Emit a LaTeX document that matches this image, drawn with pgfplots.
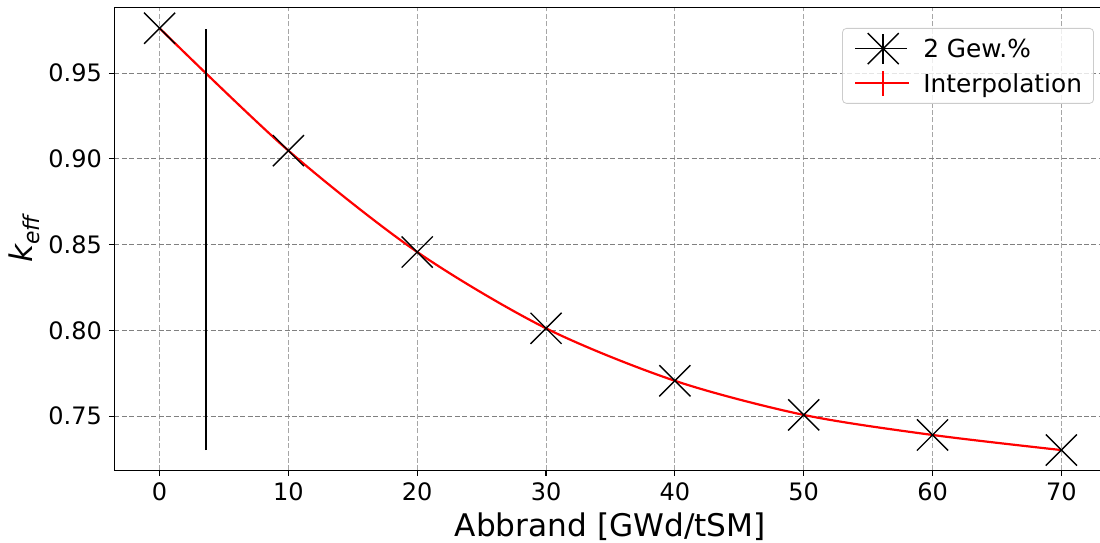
\documentclass[border=0pt]{standalone}
\usepackage{fontspec}
\setmainfont{DejaVu Sans}
\usepackage{pgfplots}
\pgfplotsset{compat=1.18}
\pgfplotstableread{
x y
0 0.9762
10 0.9048
20 0.8457
30 0.8012
40 0.7706
50 0.7507
60 0.7390
70 0.7302
}\datatab
\begin{document}
\begin{tikzpicture}
\useasboundingbox (-57.25pt,-35.85pt) rectangle (492.75pt,235.15pt);
\begin{axis}[
  scale only axis, width=492.75pt, height=231.5pt,
  xmin=-3.5, xmax=73, ymin=0.7184, ymax=0.9884,
  axis y line*=left, axis x line*=box,
  axis line style={black, line width=0.6pt},
  xtick={0,10,...,70}, ytick={0.75,0.80,0.85,0.90,0.95},
  xtick pos=left, ytick pos=left,
  tick align=outside, major tick length=2.8pt,
  tick style={black, line width=0.6pt},
  /pgf/number format/assume math mode=true,
  tick label style={font=\fontsize{12}{14.4}\selectfont},
  yticklabel style={/pgf/number format/.cd, fixed, fixed zerofill, precision=2},
  grid=major,
  x grid style={color=black!35, dash pattern=on 2.5pt off 1.2pt, line width=0.5pt},
  y grid style={color=black!50, dash pattern=on 2.5pt off 1.2pt, line width=0.5pt},
  xlabel={Abbrand [GWd/tSM]},
  ylabel={\itshape k\textsubscript{eff}},
  every axis x label/.style={at={([xshift=1.5pt,yshift=-33pt]axis description cs:0.5,0)}, anchor=base, font=\fontsize{15.6}{18}\selectfont},
  every axis y label/.style={at={([xshift=-41pt]axis description cs:0,0.5)}, rotate=90, anchor=base, font=\fontsize{15.6}{18}\selectfont},
  legend cell align=left,
  legend style={at={(axis description cs:0.9939,0.9553)}, anchor=north east,
    draw=black!20, rounded corners=2pt, fill=white, fill opacity=0.8, text opacity=1,
    font=\fontsize{12.4}{14.8}\selectfont, inner xsep=5.8pt, inner ysep=5.6pt,
    row sep=8.3pt, column sep=7.5pt,
    nodes={inner sep=0pt, text height=9pt, text depth=0pt}},
]
\addplot[only marks, mark=x, mark size=11pt, mark options={black, line width=0.7pt},
  legend image code/.code={
    \draw[overlay, black, line width=0.7pt] (14pt-7.75pt,-7.75pt) -- (14pt+7.75pt,7.75pt);
    \draw[overlay, black, line width=0.7pt] (14pt-7.75pt,7.75pt) -- (14pt+7.75pt,-7.75pt);
    \draw[overlay, black, line width=0.7pt] (14pt,-7.5pt) -- (14pt,7.5pt);
    \path (0pt,0pt) -- (26pt,0pt);
  }] table[x=x,y=y] {\datatab};
\addlegendentry{2 Gew.\%}
\addplot[red, line width=1.1pt, smooth, tension=0.5, no marks,
  legend image code/.code={
    \draw[overlay, red, line width=1.1pt] (1pt,0pt) -- (27pt,0pt);
    \draw[overlay, red, line width=1.1pt] (14pt,-6.2pt) -- (14pt,6.2pt);
    \path (0pt,0pt) -- (26pt,0pt);
  }] table[x=x,y=y] {\datatab};
\addlegendentry{Interpolation}
\addplot[black, line width=1pt, forget plot] coordinates {(3.57,0.7302) (3.57,0.9756)};
\end{axis}
\end{tikzpicture}
\end{document}
